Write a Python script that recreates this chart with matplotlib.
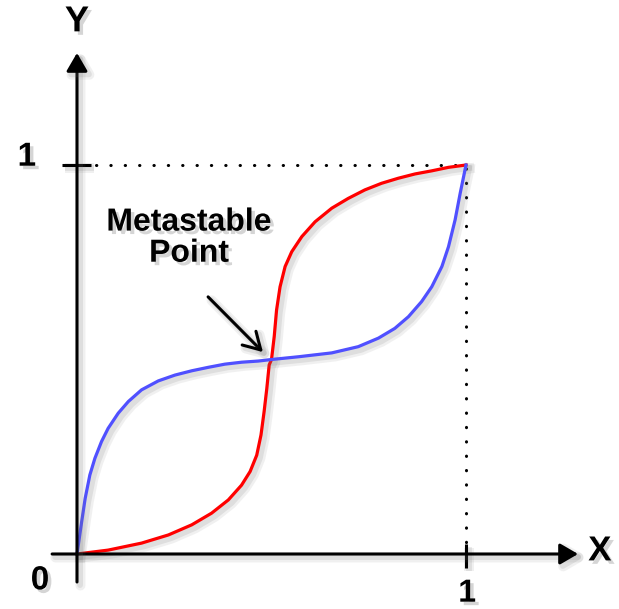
import matplotlib
matplotlib.use("Agg")
import matplotlib.pyplot as plt
import matplotlib.patheffects as pe

# transfer curves of two cross-coupled stages, read as (x, y) points
red_x = [0.0, 0.080, 0.166, 0.235, 0.295, 0.346, 0.389, 0.423, 0.445, 0.462,
         0.473, 0.481, 0.488, 0.494, 0.5, 0.507, 0.513, 0.522, 0.535, 0.552,
         0.578, 0.612, 0.655, 0.697, 0.740, 0.783, 0.826, 0.869, 0.912, 0.955, 1.0]
red_y = [0.0, 0.010, 0.028, 0.049, 0.075, 0.105, 0.139, 0.177, 0.212, 0.254,
         0.306, 0.366, 0.426, 0.486, 0.5, 0.559, 0.627, 0.687, 0.739, 0.777,
         0.816, 0.854, 0.889, 0.914, 0.936, 0.953, 0.966, 0.977, 0.985, 0.994, 1.0]

blue_x = [0.0, 0.012, 0.021, 0.033, 0.046, 0.063, 0.080, 0.106, 0.132, 0.166,
          0.209, 0.252, 0.295, 0.338, 0.380, 0.423, 0.466, 0.5, 0.569, 0.655,
          0.723, 0.775, 0.817, 0.852, 0.886, 0.912, 0.938, 0.955, 0.972, 0.985, 1.0]
blue_y = [0.0, 0.083, 0.143, 0.203, 0.246, 0.289, 0.323, 0.362, 0.392, 0.422,
          0.445, 0.460, 0.471, 0.480, 0.488, 0.493, 0.496, 0.5, 0.507, 0.517,
          0.533, 0.555, 0.580, 0.610, 0.649, 0.687, 0.739, 0.790, 0.859, 0.927, 1.0]

meta_point = (0.5, 0.5)
label_text = "Metastable\nPoint"

FONT = "Liberation Sans"


def line_shadow(lw):
    return [pe.SimpleLineShadow(offset=(2.5, -2.5), shadow_color="0.45", alpha=0.10, linewidth=lw + 5),
            pe.SimpleLineShadow(offset=(2.2, -2.2), shadow_color="0.45", alpha=0.14, linewidth=lw + 2),
            pe.Normal()]


text_shadow = [pe.withSimplePatchShadow(offset=(2.5, -2.5), shadow_rgbFace="0.35", alpha=0.25)]

fig = plt.figure(figsize=(6.19, 6.09), dpi=100)
ax = fig.add_axes([0, 0, 1, 1])
ax.set_xlim(-77 / 389, (619 - 77) / 389)
ax.set_ylim((554 - 609) / 389, 554 / 389)
ax.axis("off")

# axes with arrow heads
arrow_kw = dict(arrowstyle="-|>,head_length=0.55,head_width=0.32", lw=2.2, color="k",
                mutation_scale=20, shrinkA=0, shrinkB=0)
ax.annotate("", xy=(1.288, 0), xytext=(-0.064, 0),
            arrowprops=dict(arrow_kw, path_effects=line_shadow(2.2)))
ax.annotate("", xy=(0, 1.288), xytext=(0, -0.072),
            arrowprops=dict(arrow_kw, path_effects=line_shadow(2.2)))

# tick marks at 1
ax.plot([-0.039, 0.036], [1, 1], color="k", lw=2.2, solid_capstyle="butt",
        path_effects=line_shadow(2.2))
ax.plot([1, 1], [-0.036, 0.025], color="k", lw=2.2, solid_capstyle="butt",
        path_effects=line_shadow(2.2))

# dotted guides
ax.plot([0.05, 1, 1], [1, 1, 0.02], color="k", lw=2.2, dashes=(0.1, 4.6),
        dash_capstyle="round")

ax.plot(red_x, red_y, color="#ff0000", lw=2.3, solid_joinstyle="round",
        path_effects=line_shadow(2.3))
ax.plot(blue_x, blue_y, color="#5050ff", lw=2.3, solid_joinstyle="round",
        path_effects=line_shadow(2.3))

# labels
lab = dict(fontfamily=FONT, fontweight="bold", ha="center", va="center",
           path_effects=text_shadow)
ax.text(0, 1.368, "Y", fontsize=26, **lab)
ax.text(1.344, 0.008, "X", fontsize=25, **lab)
ax.text(-0.129, 1.02, "1", fontsize=24, **lab)
ax.text(-0.095, -0.069, "0", fontsize=24, **lab)
ax.text(1.003, -0.102, "1", fontsize=23, **lab)
ax.text(0.288, 0.812, label_text, fontsize=23, linespacing=1.05, **lab)

ax.annotate("", xy=(meta_point[0] - 0.022, meta_point[1] + 0.019), xytext=(0.337, 0.661),
            arrowprops=dict(arrowstyle="->,head_length=0.6,head_width=0.35", lw=2.2,
                            color="k", mutation_scale=20, shrinkA=0, shrinkB=0,
                            path_effects=line_shadow(2.2)))

fig.savefig("out.png", dpi=100)
